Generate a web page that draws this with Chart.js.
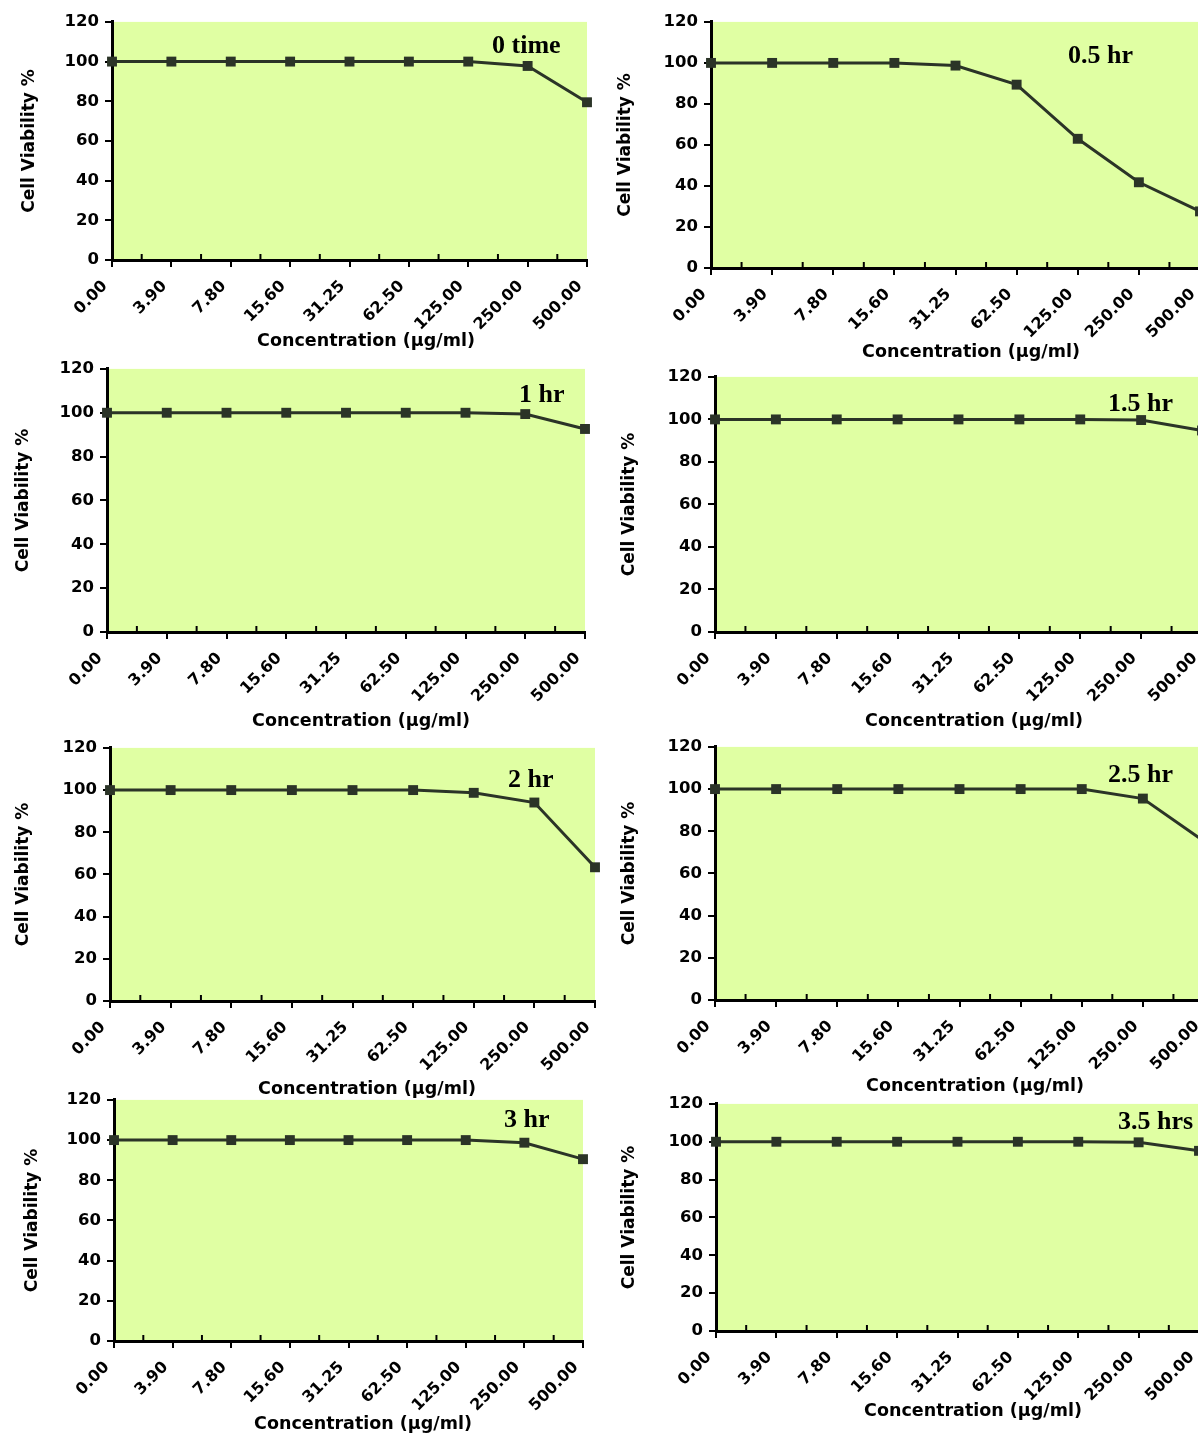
<!DOCTYPE html>
<html>
<head>
<meta charset="utf-8">
<script src="https://cdn.jsdelivr.net/npm/chart.js@4.4.1/dist/chart.umd.min.js"></script>
<style>
  html, body { margin: 0; padding: 0; background: #fff; width: 1198px; height: 1438px; overflow: hidden; }
  #page { position: relative; width: 1198px; height: 1438px; overflow: hidden; }
  .box { position: absolute; }
</style>
</head>
<body>
<div id="page"></div>
<script>
// concentrations (µg/ml), same for every panel
const concentrations = ['0.00', '3.90', '7.80', '15.60', '31.25', '62.50', '125.00', '250.00', '500.00']
const yTicks = [0, 20, 40, 60, 80, 100, 120]

// cell viability %
const viability0h = [100, 100, 100, 100, 100, 100, 100, 97.8, 79.5]
const viability05h = [100, 100, 100, 100, 98.7, 89.4, 63.0, 41.8, 27.6]
const viability1h = [100, 100, 100, 100, 100, 100, 100, 99.4, 92.6]
const viability15h = [100, 100, 100, 100, 100, 100, 100, 99.7, 94.8]
const viability2h = [100, 100, 100, 100, 100, 100, 98.7, 94.1, 63.4]
const viability25h = [100, 100, 100, 100, 100, 100, 100, 95.5, 75.3]
const viability3h = [100, 100, 100, 100, 100, 100, 100, 98.7, 90.5]
const viability35h = [100, 100, 100, 100, 100, 100, 100, 99.7, 95.2]

const tags = ['0 time', '0.5 hr', '1 hr', '1.5 hr', '2 hr', '2.5 hr', '3 hr', '3.5 hrs']
const series = [viability0h, viability05h, viability1h, viability15h, viability2h, viability25h, viability3h, viability35h]

// page layout of each panel: plot box (pl,pt,pr,pb), y title centre x, x title centre, tag start + baseline
const panels = [
  { pl: 112, pt: 20, pr: 587, pb: 260, tx: 29, xt: [366, 341], tag: [492, 53] },
  { pl: 711, pt: 20, pr: 1200, pb: 268, tx: 625, xt: [971, 352], tag: [1068, 63] },
  { pl: 107, pt: 367, pr: 585, pb: 632, tx: 23, xt: [361, 721], tag: [519, 402] },
  { pl: 715, pt: 375, pr: 1202, pb: 632, tx: 629, xt: [974, 721], tag: [1108, 411] },
  { pl: 110, pt: 746, pr: 595, pb: 1001, tx: 23, xt: [367, 1089], tag: [508, 787] },
  { pl: 715, pt: 745, pr: 1204, pb: 1000, tx: 629, xt: [975, 1086], tag: [1108, 782] },
  { pl: 114, pt: 1098, pr: 583, pb: 1341, tx: 32, xt: [363, 1424], tag: [504, 1127] },
  { pl: 716, pt: 1102, pr: 1199, pb: 1331, tx: 629, xt: [973, 1411], tag: [1118, 1129] },
]

const INK = '#2b3427'
const PLOT_BG = '#e0ffa3'
const PAD_TOP = 14
const PAD_RIGHT = 24
const X_AXIS_H = 110

Chart.defaults.font.family = '"DejaVu Sans", "Liberation Sans", sans-serif'
Chart.defaults.font.weight = 'bold'
Chart.defaults.color = '#000'

// green plot area, minor x ticks, time tag and x title
const decor = {
  id: 'decor',
  beforeDraw(chart, args, opts) {
    const { ctx, chartArea: a } = chart
    ctx.save()
    ctx.fillStyle = PLOT_BG
    ctx.fillRect(a.left, a.top, a.right - a.left, a.bottom - a.top)
    ctx.restore()
  },
  afterDraw(chart, args, opts) {
    const { ctx, chartArea: a } = chart
    const xs = chart.scales.x
    ctx.save()
    ctx.strokeStyle = '#000'
    ctx.lineWidth = 2
    for (let i = 0; i < concentrations.length - 1; i++) {
      const px = xs.getPixelForValue(i + 0.5)
      ctx.beginPath()
      ctx.moveTo(px, a.bottom)
      ctx.lineTo(px, a.bottom - 6)
      ctx.stroke()
    }
    ctx.fillStyle = '#000'
    ctx.font = 'bold 26px "Liberation Serif", "Times New Roman", serif'
    ctx.textAlign = 'left'
    ctx.textBaseline = 'alphabetic'
    ctx.fillText(opts.tag, opts.tagX, opts.tagY)
    ctx.font = 'bold 17.5px "DejaVu Sans", sans-serif'
    ctx.textAlign = 'center'
    ctx.textBaseline = 'middle'
    ctx.fillText('Concentration (µg/ml)', opts.xtX, opts.xtY)
    ctx.restore()
  },
}

const page = document.getElementById('page')

panels.forEach((p, k) => {
  const left = Math.round(p.tx - 10)
  const top = p.pt - PAD_TOP
  const yAxisW = p.pl - left
  const w = yAxisW + (p.pr - p.pl) + PAD_RIGHT
  const h = PAD_TOP + (p.pb - p.pt) + X_AXIS_H

  const box = document.createElement('div')
  box.className = 'box'
  box.style.left = left + 'px'
  box.style.top = top + 'px'
  box.style.width = w + 'px'
  box.style.height = h + 'px'
  const canvas = document.createElement('canvas')
  box.appendChild(canvas)
  page.appendChild(box)

  new Chart(canvas, {
    type: 'line',
    data: {
      labels: concentrations,
      datasets: [
        {
          data: series[k],
          borderColor: INK,
          borderWidth: 3,
          backgroundColor: INK,
          pointStyle: 'rect',
          pointRadius: 7,
          pointBorderWidth: 0,
          pointBackgroundColor: INK,
          tension: 0,
          clip: false,
        },
      ],
    },
    options: {
      responsive: true,
      maintainAspectRatio: false,
      animation: false,
      layout: { padding: { top: PAD_TOP, right: PAD_RIGHT, left: 0, bottom: 0 } },
      scales: {
        x: {
          offset: false,
          ticks: {
            color: '#000',
            font: { size: 16, weight: 'bold' },
            minRotation: 45,
            maxRotation: 45,
            autoSkip: false,
            padding: 10,
            labelOffset: -7,
          },
          grid: { drawOnChartArea: false, color: '#000', lineWidth: 2, tickLength: 7 },
          border: { color: '#000', width: 3 },
          afterFit(s) { s.height = X_AXIS_H },
        },
        y: {
          min: yTicks[0],
          max: yTicks[yTicks.length - 1],
          afterBuildTicks(s) { s.ticks = yTicks.map((v) => ({ value: v })) },
          ticks: { color: '#000', font: { size: 16.5, weight: 'bold' }, padding: 6 },
          grid: { drawOnChartArea: false, color: '#000', lineWidth: 2, tickLength: 7 },
          border: { color: '#000', width: 3 },
          title: { display: true, text: 'Cell Viability %', color: '#000', font: { size: 17, weight: 'bold' }, padding: 0 },
          afterFit(s) { s.width = yAxisW },
        },
      },
      plugins: {
        legend: { display: false },
        tooltip: { enabled: false },
        decor: {
          tag: tags[k],
          tagX: p.tag[0] - left,
          tagY: p.tag[1] - top,
          xtX: p.xt[0] - left,
          xtY: p.xt[1] - top,
        },
      },
    },
    plugins: [decor],
  })
})
</script>
</body>
</html>
